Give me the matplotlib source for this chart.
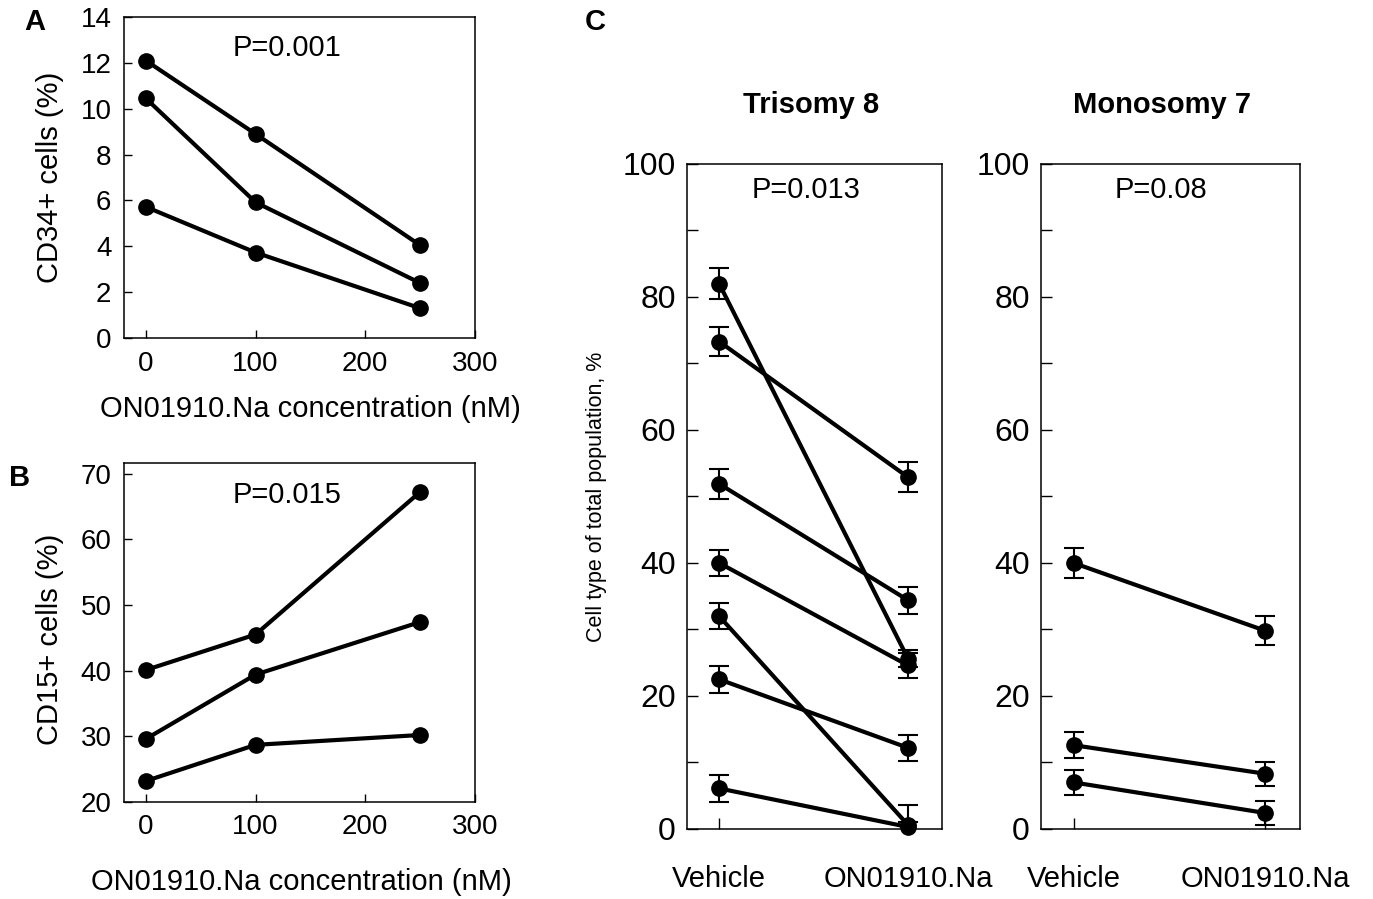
import matplotlib.pyplot as plt
from matplotlib import font_manager
from matplotlib.ticker import MultipleLocator

plt.rcParams['font.family'] = ['Liberation Sans', 'DejaVu Sans']

# Panels A and B: three donors at three concentrations
conc = [0, 100, 250]
cd34 = [[12.1, 8.9, 4.05], [10.45, 5.92, 2.4], [5.72, 3.73, 1.3]]
cd15 = [[40.1, 45.5, 67.2], [29.6, 39.4, 47.4], [23.2, 28.7, 30.2]]

# Panel C: paired vehicle / drug values with error bars
groups = ['Vehicle', 'ON01910.Na']
tri_vehicle = [82.0, 73.3, 51.9, 40.0, 32.0, 22.5, 6.1]
tri_vehicle_err = [2.3, 2.2, 2.25, 1.95, 2.0, 2.0, 2.0]
tri_drug = [25.6, 52.9, 34.4, 24.6, 0.6, 12.2, 0.3]
tri_drug_err = [1.3, 2.25, 2.0, 1.9, 3.0, 2.0, 0.8]
mono_vehicle = [40.0, 12.6, 7.0]
mono_vehicle_err = [2.2, 2.0, 1.85]
mono_drug = [29.8, 8.3, 2.4]
mono_drug_err = [2.2, 1.8, 1.8]

# the C y-label in the original is a tall, narrow face
installed = {f.name for f in font_manager.fontManager.ttflist}
if 'Liberation Sans Narrow' in installed:
    narrow_font, narrow_size = ['Liberation Sans Narrow', 'DejaVu Sans'], 19
else:
    narrow_font, narrow_size = ['Liberation Sans', 'DejaVu Sans'], 15.5

fig = plt.figure(figsize=(13.73, 8.99), dpi=100)


def style_spines(ax):
    for s in ax.spines.values():
        s.set_linewidth(1.1)


def conc_panel(ax, rows, ylim, yticks, ylabel, ptext, ylab_y, xlab_x, xlab_y):
    for r in rows:
        ax.plot(conc, r, '-o', color='black', lw=3, ms=11, clip_on=False)
    ax.set_xlim(-20, 300)
    ax.set_ylim(*ylim)
    ax.set_xticks([0, 100, 200, 300])
    ax.set_yticks(yticks)
    ax.tick_params(direction='in', length=6, width=1, labelsize=20, pad=9)
    ax.set_ylabel(ylabel, fontsize=21, va='center')
    ax.yaxis.set_label_coords(-0.21, ylab_y)
    ax.set_xlabel('ON01910.Na concentration (nM)', fontsize=21, va='center')
    ax.xaxis.set_label_coords(xlab_x, xlab_y)
    ax.text(0.465, 0.905, ptext, transform=ax.transAxes, ha='center',
            va='center', fontsize=21)
    style_spines(ax)


axA = fig.add_axes([0.0903, 0.624, 0.2556, 0.357])
conc_panel(axA, cd34, (0, 14), range(0, 15, 2), 'CD34+ cells (%)',
           'P=0.001', 0.5, 0.53, -0.22)

axB = fig.add_axes([0.0903, 0.1079, 0.2556, 0.377])
conc_panel(axB, cd15, (20, 71.6), range(20, 71, 10), 'CD15+ cells (%)',
           'P=0.015', 0.48, 0.505, -0.235)


def pair_panel(ax, veh, veh_err, drug, drug_err, ptext):
    for v, ve, d, de in zip(veh, veh_err, drug, drug_err):
        ax.errorbar([0, 1], [v, d], yerr=[ve, de], fmt='none', ecolor='black',
                    elinewidth=1.5, capsize=7, capthick=1.5)
        ax.plot([0, 1], [v, d], '-o', color='black', lw=3, ms=11,
                clip_on=False)
    ax.set_xlim(-0.17, 1.18)
    ax.set_ylim(0, 100)
    ax.set_xticks([0, 1])
    ax.set_xticklabels(groups)
    ax.yaxis.set_major_locator(MultipleLocator(20))
    ax.yaxis.set_minor_locator(MultipleLocator(10))
    ax.tick_params(axis='y', which='both', direction='in', length=8, width=1,
                   labelsize=23, pad=8)
    ax.tick_params(axis='x', direction='in', length=8, width=1,
                   labelsize=21, pad=26)
    ax.text(0.465, 0.961, ptext, transform=ax.transAxes, ha='center',
            va='center', fontsize=21)
    style_spines(ax)


axC1 = fig.add_axes([0.5004, 0.0779, 0.1857, 0.7397])
pair_panel(axC1, tri_vehicle, tri_vehicle_err, tri_drug, tri_drug_err,
           'P=0.013')
axC1.set_ylabel('Cell type of total population, %', fontsize=narrow_size,
                va='center', family=narrow_font)
axC1.yaxis.set_label_coords(-0.355, 0.5)

axC2 = fig.add_axes([0.7582, 0.0779, 0.1886, 0.7397])
pair_panel(axC2, mono_vehicle, mono_vehicle_err, mono_drug, mono_drug_err,
           'P=0.08')

fig.text(0.5907, 0.8832, 'Trisomy 8', ha='center', va='center',
         fontsize=21, fontweight='bold')
fig.text(0.8463, 0.8832, 'Monosomy 7', ha='center', va='center',
         fontsize=21, fontweight='bold')
fig.text(0.0255, 0.9755, 'A', ha='center', va='center', fontsize=21,
         fontweight='bold')
fig.text(0.0146, 0.4683, 'B', ha='center', va='center', fontsize=21,
         fontweight='bold')
fig.text(0.4334, 0.9755, 'C', ha='center', va='center', fontsize=21,
         fontweight='bold')

fig.savefig('out.png', dpi=100)
